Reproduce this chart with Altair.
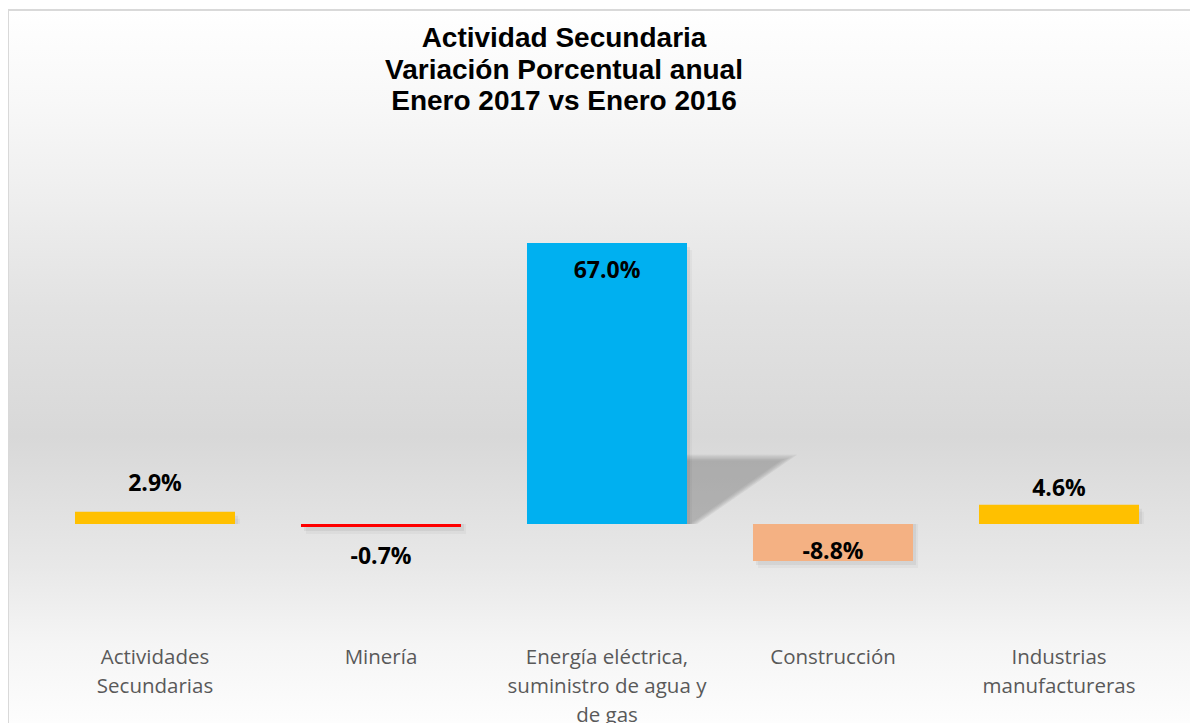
import altair as alt
import pandas as pd

# ---- data ----
categories = [
    "Actividades Secundarias",
    "Minería",
    "Energía eléctrica, suministro de agua y de gas",
    "Construcción",
    "Industrias manufactureras",
]
axis_labels = [
    "Actividades\nSecundarias",
    "Minería",
    "Energía eléctrica,\nsuministro de agua y\nde gas",
    "Construcción",
    "Industrias\nmanufactureras",
]
values = [2.9, -0.7, 67.0, -8.8, 4.6]
label_texts = ["2.9%", "-0.7%", "67.0%", "-8.8%", "4.6%"]
title_lines = ["Actividad Secundaria", "Variación Porcentual anual", "Enero 2017 vs Enero 2016"]

# ---- styling ----
bar_colors = ["#FFC000", "#FF0000", "#00B0F0", "#F4B183", "#FFC000"]
label_offsets_px = [-28, 30, 28, -9, -16]  # label centre relative to bar end (px, + = down)
shadow_radii = [190, 186, 182, 178, 174]

W, H = 1182, 715
Y_MIN, Y_MAX = -47.45, 123.03
PX_PER_UNIT = H / (Y_MAX - Y_MIN)

df = pd.DataFrame({
    "category": categories,
    "label": axis_labels,
    "value": values,
    "text": label_texts,
    "off": label_offsets_px,
})
df["label_y"] = df["value"] - df["off"] / PX_PER_UNIT

xscale = alt.Scale(domain=categories, range=[34, 1164], paddingInner=0.292, paddingOuter=0.146)
yscale = alt.Scale(domain=[Y_MIN, Y_MAX], nice=False, zero=False)
X = alt.X("category:N", scale=xscale, axis=None, sort=categories)

one = pd.DataFrame({"t": [0]})

bg = alt.Chart(one).mark_rect(
    color=alt.LinearGradient(
        gradient="linear", x1=0, x2=0, y1=0, y2=1,
        stops=[
            alt.GradientStop(offset=0.0, color="#ffffff"),
            alt.GradientStop(offset=0.13, color="#f8f8f8"),
            alt.GradientStop(offset=0.27, color="#eeeeee"),
            alt.GradientStop(offset=0.42, color="#e2e2e2"),
            alt.GradientStop(offset=0.60, color="#d8d8d8"),
            alt.GradientStop(offset=0.78, color="#e8e8e8"),
            alt.GradientStop(offset=0.89, color="#f5f5f5"),
            alt.GradientStop(offset=1.0, color="#fdfdfd"),
        ],
    )
).encode(x=alt.value(0), x2=alt.value(W), y=alt.value(0), y2=alt.value(H))

border_top = alt.Chart(one).mark_rule(color="#d9d9d9", strokeWidth=2).encode(
    x=alt.value(0), x2=alt.value(W), y=alt.value(2)
)
border_left = alt.Chart(one).mark_rule(color="#d9d9d9", strokeWidth=2).encode(
    x=alt.value(0), y=alt.value(1), y2=alt.value(H)
)

base = alt.Chart(df)

# soft perspective shadow behind the tall bar (stacked translucent layers)
shadow_path = "M0.3,-0.3646 L1,-0.3646 L0.475,0 L0.3,0 Z"
persp_layers = [
    base.transform_filter(alt.datum.value > 30)
    .transform_calculate(zero_y="0")
    .mark_point(shape=shadow_path, filled=True, size=(2 * r) ** 2, color="#888888",
                opacity=0.14, strokeWidth=0)
    .encode(x=X, y=alt.Y("zero_y:Q", scale=yscale, axis=None))
    for r in shadow_radii
]

shadow1 = base.mark_bar(color="#000000", opacity=0.05, xOffset=3, yOffset=4).encode(
    x=X, y=alt.Y("value:Q", scale=yscale, axis=None), y2=alt.datum(0)
)
shadow2 = base.mark_bar(color="#000000", opacity=0.03, xOffset=5, yOffset=7).encode(
    x=X, y=alt.Y("value:Q", scale=yscale, axis=None), y2=alt.datum(0)
)

bars = base.mark_bar().encode(
    x=X,
    y=alt.Y("value:Q", scale=yscale, axis=None),
    y2=alt.datum(0),
    color=alt.Color("category:N", scale=alt.Scale(domain=categories, range=bar_colors), legend=None),
)

value_labels = base.mark_text(
    font="Open Sans", fontWeight="bold", fontSize=23, color="#000000", baseline="middle", align="center"
).encode(x=X, y=alt.Y("label_y:Q", scale=yscale, axis=None), text="text:N")

cat_labels = base.mark_text(
    font="Open Sans", fontSize=20.5, color="#595959", baseline="top", align="center",
    lineBreak="\n", lineHeight=29
).encode(x=X, y=alt.value(640), text="label:N")

title_df = pd.DataFrame({"t": ["\n".join(title_lines)]})
title = alt.Chart(title_df).mark_text(
    font="Liberation Sans", fontWeight="bold", fontSize=28, color="#000000",
    baseline="top", align="center", lineBreak="\n", lineHeight=31.5
).encode(x=alt.value(556), y=alt.value(17), text="t:N")

chart = alt.layer(
    bg, border_top, border_left, *persp_layers, shadow2, shadow1, bars, value_labels, cat_labels, title
).properties(
    width=W, height=H, padding=0, autosize="none", background="#ffffff"
).configure_view(stroke=None)

chart.save("out.html", embed_options={"renderer": "svg", "actions": False})
